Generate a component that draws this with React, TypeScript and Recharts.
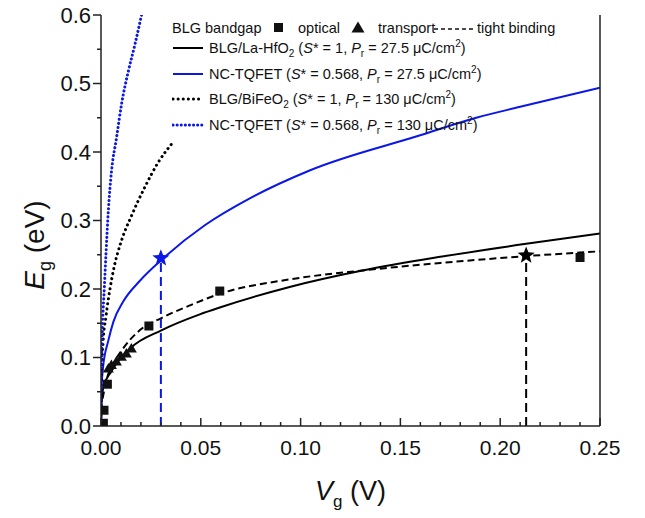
import React from "react";
import { ComposedChart, Line, Scatter, XAxis, YAxis, Legend } from "recharts";

const FONT = '"Liberation Sans", Arial, Helvetica, sans-serif';

// theory curves (Vg in V, Eg in eV)
const laHfO2 = [
  { x: 0, y: 0 }, { x: 0.0002, y: 0.03 }, { x: 0.0012, y: 0.057 }, { x: 0.005, y: 0.079 },
  { x: 0.0145, y: 0.113 }, { x: 0.0305, y: 0.14 }, { x: 0.0495, y: 0.163 }, { x: 0.0595, y: 0.173 },
  { x: 0.0945, y: 0.203 }, { x: 0.131, y: 0.227 }, { x: 0.17, y: 0.247 }, { x: 0.213, y: 0.266 },
  { x: 0.25, y: 0.281 },
];
const tqfet275 = [
  { x: 0, y: 0 }, { x: 0.0002, y: 0.05 }, { x: 0.001, y: 0.085 }, { x: 0.0037, y: 0.125 },
  { x: 0.0062, y: 0.152 }, { x: 0.0112, y: 0.182 }, { x: 0.0195, y: 0.212 }, { x: 0.0305, y: 0.243 },
  { x: 0.052, y: 0.293 }, { x: 0.075, y: 0.333 }, { x: 0.1045, y: 0.373 }, { x: 0.1595, y: 0.424 },
  { x: 0.188, y: 0.45 }, { x: 0.21, y: 0.466 }, { x: 0.25, y: 0.494 },
];
const biFeO2 = [
  { x: 0, y: 0 }, { x: 0.0003, y: 0.07 }, { x: 0.001, y: 0.12 }, { x: 0.0025, y: 0.16 },
  { x: 0.0045, y: 0.2 }, { x: 0.0062, y: 0.227 }, { x: 0.0103, y: 0.271 }, { x: 0.0153, y: 0.307 },
  { x: 0.022, y: 0.349 }, { x: 0.0287, y: 0.385 }, { x: 0.036, y: 0.414 },
];
const tqfet130 = [
  { x: 0, y: 0 }, { x: 0.0001, y: 0.07 }, { x: 0.0003, y: 0.1 }, { x: 0.0008, y: 0.15 },
  { x: 0.0017, y: 0.203 }, { x: 0.0025, y: 0.251 }, { x: 0.0037, y: 0.315 }, { x: 0.0052, y: 0.37 },
  { x: 0.0078, y: 0.421 }, { x: 0.0103, y: 0.47 }, { x: 0.0137, y: 0.518 }, { x: 0.017, y: 0.557 },
  { x: 0.0203, y: 0.6 },
];
const tightBinding = [
  { x: 0.0008, y: 0.04 }, { x: 0.003, y: 0.07 }, { x: 0.0062, y: 0.091 }, { x: 0.011, y: 0.113 },
  { x: 0.0195, y: 0.14 }, { x: 0.0305, y: 0.158 }, { x: 0.0445, y: 0.176 }, { x: 0.0595, y: 0.193 },
  { x: 0.0945, y: 0.214 }, { x: 0.131, y: 0.227 }, { x: 0.17, y: 0.238 }, { x: 0.213, y: 0.248 },
  { x: 0.25, y: 0.255 },
];

// measured band gaps
const optical = [
  { x: 0.0012, y: 0.004 }, { x: 0.0015, y: 0.023 }, { x: 0.0032, y: 0.061 },
  { x: 0.024, y: 0.146 }, { x: 0.0595, y: 0.197 }, { x: 0.24, y: 0.246 },
];
const transport = [
  { x: 0.0037, y: 0.084 }, { x: 0.0052, y: 0.089 }, { x: 0.0077, y: 0.094 },
  { x: 0.0102, y: 0.101 }, { x: 0.0127, y: 0.106 }, { x: 0.0152, y: 0.113 },
];

// operating points and their drop lines
const blueStar = [{ x: 0.03, y: 0.245 }];
const blackStar = [{ x: 0.213, y: 0.249 }];
const blueDrop = [{ x: 0.03, y: 0 }, { x: 0.03, y: 0.245 }];
const blackDrop = [{ x: 0.213, y: 0 }, { x: 0.213, y: 0.249 }];

const xTicks = [0, 0.01, 0.02, 0.03, 0.04, 0.05, 0.06, 0.07, 0.08, 0.09, 0.1, 0.11, 0.12, 0.13,
  0.14, 0.15, 0.16, 0.17, 0.18, 0.19, 0.2, 0.21, 0.22, 0.23, 0.24, 0.25];
const yTicks = [0, 0.05, 0.1, 0.15, 0.2, 0.25, 0.3, 0.35, 0.4, 0.45, 0.5, 0.55, 0.6];

const legendRows = [
  { name: "BLG/La-HfO", sub: "2", s: "1", pr: "27.5", color: "#000", dash: undefined, w: 2 },
  { name: "NC-TQFET", sub: "", s: "0.568", pr: "27.5", color: "#0a17e6", dash: undefined, w: 2 },
  { name: "BLG/BiFeO", sub: "2", s: "1", pr: "130", color: "#000", dash: "0.1 5", w: 3 },
  { name: "NC-TQFET", sub: "", s: "0.568", pr: "130", color: "#0a17e6", dash: "0.1 4", w: 3 },
];

const BLUE = "#0a17e6";
const AXIS = "#222";

const isMajor = (v: number, step: number) => Math.abs(v / step - Math.round(v / step)) < 1e-6;

const XTick = (p: any) => {
  const v = p.payload.value;
  const major = isMajor(v, 0.05);
  return (
    <g>
      <line x1={p.x} x2={p.x} y1={p.y} y2={p.y - (major ? 8 : 4)} stroke={AXIS} strokeWidth={1.5} />
      {major && (
        <text x={p.x} y={p.y + 29} textAnchor="middle" fontSize={21} fontFamily={FONT} fill="#111">
          {v.toFixed(2)}
        </text>
      )}
    </g>
  );
};

const YTick = (p: any) => {
  const v = p.payload.value;
  const major = isMajor(v, 0.1);
  return (
    <g>
      <line x1={p.x} x2={p.x - (major ? 8 : 4)} y1={p.y} y2={p.y} stroke={AXIS} strokeWidth={1.5} />
      {major && (
        <text x={p.x - 10} y={p.y} dy="0.36em" textAnchor="end" fontSize={22} fontFamily={FONT} fill="#111">
          {v.toFixed(1)}
        </text>
      )}
    </g>
  );
};

const RightTick = (p: any) => {
  const major = isMajor(p.payload.value, 0.1);
  return <line x1={p.x} x2={p.x - (major ? 8 : 5)} y1={p.y} y2={p.y} stroke={AXIS} strokeWidth={1.5} />;
};

const square = (p: any) => <rect x={p.cx - 4.5} y={p.cy - 4.5} width={9} height={9} fill="#111" />;
const triangle = (p: any) => (
  <path d={`M${p.cx},${p.cy - 5.5}L${p.cx + 5.5},${p.cy + 4}L${p.cx - 5.5},${p.cy + 4}Z`} fill="#111" />
);
const starPath = (cx: number, cy: number, R: number, r: number) => {
  let d = "";
  for (let i = 0; i < 10; i++) {
    const a = -Math.PI / 2 + (i * Math.PI) / 5;
    const rad = i % 2 ? r : R;
    d += `${i ? "L" : "M"}${cx + rad * Math.cos(a)},${cy + rad * Math.sin(a)}`;
  }
  return d + "Z";
};
const star = (color: string) => (p: any) => <path d={starPath(p.cx, p.cy, 9, 3.8)} fill={color} />;

const Sample = ({ color, dash, w }: { color: string; dash?: string; w: number }) => (
  <svg width={32} height={10} style={{ position: "absolute", left: 0, top: 5 }}>
    <line x1={1} x2={31} y1={5} y2={5} stroke={color} strokeWidth={w} strokeDasharray={dash}
      strokeLinecap={dash ? "round" : "butt"} />
  </svg>
);

const LegendBox = () => {
  const txt: React.CSSProperties = { position: "absolute", whiteSpace: "nowrap", fontSize: 14.5, lineHeight: "20px" };
  const sub: React.CSSProperties = { fontSize: 10, verticalAlign: "-4px", lineHeight: 0 };
  const sup: React.CSSProperties = { fontSize: 10, verticalAlign: "6px", lineHeight: 0 };
  return (
    <div style={{ position: "relative", width: 420, height: 130, fontFamily: FONT, color: "#111" }}>
      <div style={{ ...txt, left: 0, top: 0 }}>BLG bandgap</div>
      <div style={{ position: "absolute", left: 102, top: 5, width: 9, height: 9, background: "#111" }} />
      <div style={{ ...txt, left: 126, top: 0 }}>optical</div>
      <svg width={14} height={12} style={{ position: "absolute", left: 179, top: 3 }}>
        <path d="M7,0.5L13.5,11.5L0.5,11.5Z" fill="#111" />
      </svg>
      <div style={{ ...txt, left: 206, top: 0 }}>transport</div>
      <svg width={42} height={10} style={{ position: "absolute", left: 262, top: 6 }}>
        <line x1={0} x2={42} y1={5} y2={5} stroke="#111" strokeWidth={1.5} strokeDasharray="4 3" />
      </svg>
      <div style={{ ...txt, left: 305, top: 0 }}>tight binding</div>
      {legendRows.map((r, i) => (
        <div key={i} style={{ position: "absolute", left: 0, top: 20 + i * 25.5, width: 420, height: 20 }}>
          <Sample color={r.color} dash={r.dash} w={r.w} />
          <div style={{ ...txt, left: 37, top: 0 }}>
            {r.name}
            {r.sub && <span style={sub}>{r.sub}</span>} (<i>S</i>* = {r.s}, <i>P</i>
            <span style={sub}>r</span> = {r.pr} μC/cm<span style={sup}>2</span>)
          </div>
        </div>
      ))}
    </div>
  );
};

export default function App() {
  // pull the chart up over the body margin so the top tick label has room inside the svg
  return (
    <div style={{ marginTop: -8 }}>
      <ComposedChart width={637} height={513} margin={{ top: 15, right: 35, bottom: 0, left: 0 }}>
        <XAxis
          dataKey="x"
          type="number"
          domain={[0, 0.25]}
          ticks={xTicks}
          interval={0}
          allowDataOverflow
          height={87}
          tickSize={0}
          tickMargin={0}
          tickLine={false}
          tick={XTick}
          axisLine={{ stroke: AXIS, strokeWidth: 1.5 }}
          label={{
            content: (p: any) => (
              <text x={p.viewBox.x + p.viewBox.width / 2} y={p.viewBox.y + 74} textAnchor="middle"
                fontSize={27} fontFamily={FONT} fill="#111">
                <tspan fontStyle="italic">V</tspan>
                <tspan fontSize={17} dy={7}>g</tspan>
                <tspan dy={-7}> (V)</tspan>
              </text>
            ),
          }}
        />
        <XAxis xAxisId="top" orientation="top" type="number" domain={[0, 0.25]} height={0} tick={false}
          tickLine={false} axisLine={{ stroke: AXIS, strokeWidth: 1.5 }} />
        <YAxis
          type="number"
          domain={[0, 0.6]}
          ticks={yTicks}
          interval={0}
          allowDataOverflow
          width={93}
          tickSize={0}
          tickMargin={0}
          tickLine={false}
          tick={YTick}
          axisLine={{ stroke: AXIS, strokeWidth: 1.5 }}
          label={{
            content: () => (
              <text transform="translate(36,245) rotate(-90)" textAnchor="middle" fontSize={28}
                fontFamily={FONT} fill="#111">
                <tspan fontStyle="italic">E</tspan>
                <tspan fontSize={18} dy={7}>g</tspan>
                <tspan dy={-7}> (eV)</tspan>
              </text>
            ),
          }}
        />
        <YAxis yAxisId="right" orientation="right" type="number" domain={[0, 0.6]} ticks={yTicks}
          interval={0} width={10} tickSize={0} tickMargin={0} tickLine={false} tick={RightTick}
          axisLine={{ stroke: AXIS, strokeWidth: 1.5 }} />

        <Line data={laHfO2} dataKey="y" type="monotone" stroke="#000" strokeWidth={2} dot={false} isAnimationActive={false} />
        <Line data={tqfet275} dataKey="y" type="monotone" stroke={BLUE} strokeWidth={2} dot={false} isAnimationActive={false} />
        <Line data={biFeO2} dataKey="y" type="monotone" stroke="#000" strokeWidth={3} strokeDasharray="0.1 5"
          strokeLinecap="round" dot={false} isAnimationActive={false} />
        <Line data={tqfet130} dataKey="y" type="monotone" stroke={BLUE} strokeWidth={3} strokeDasharray="0.1 4"
          strokeLinecap="round" dot={false} isAnimationActive={false} />
        <Line data={tightBinding} dataKey="y" type="monotone" stroke="#000" strokeWidth={2} strokeDasharray="7 4"
          dot={false} isAnimationActive={false} />
        <Line data={blueDrop} dataKey="y" type="linear" stroke={BLUE} strokeWidth={2} strokeDasharray="9 5"
          dot={false} isAnimationActive={false} />
        <Line data={blackDrop} dataKey="y" type="linear" stroke="#000" strokeWidth={2} strokeDasharray="9 5"
          dot={false} isAnimationActive={false} />

        <Scatter data={optical} dataKey="y" shape={square} isAnimationActive={false} />
        <Scatter data={transport} dataKey="y" shape={triangle} isAnimationActive={false} />
        <Scatter data={blueStar} dataKey="y" shape={star(BLUE)} isAnimationActive={false} />
        <Scatter data={blackStar} dataKey="y" shape={star("#000")} isAnimationActive={false} />

        <Legend
          layout="horizontal"
          verticalAlign="middle"
          content={LegendBox}
          wrapperStyle={{ position: "absolute", left: 164, top: 18, width: 420, height: 130 }}
        />
      </ComposedChart>
    </div>
  );
}
